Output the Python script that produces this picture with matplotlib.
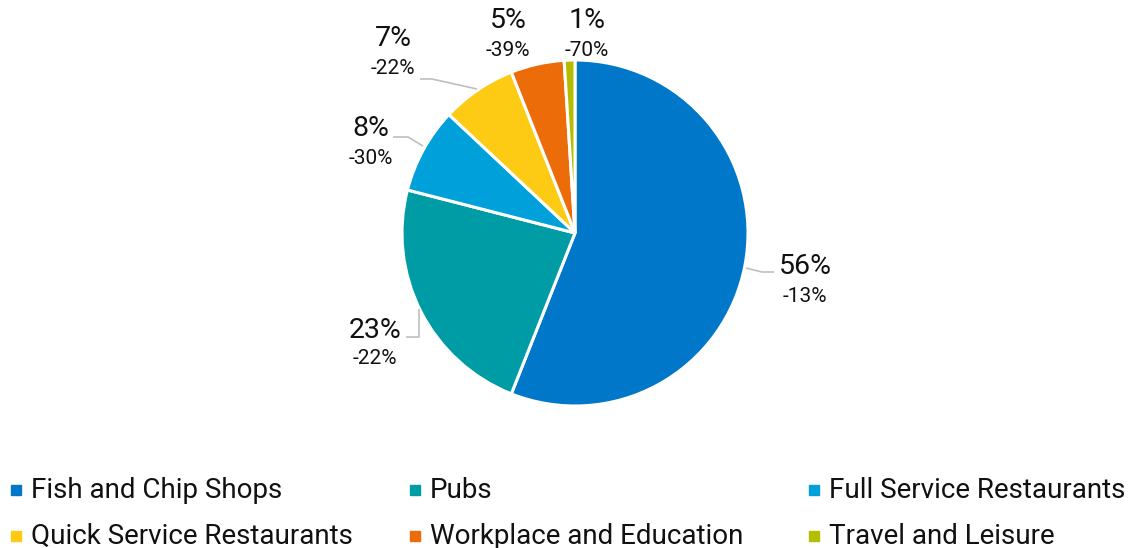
import matplotlib.pyplot as plt

plt.rcParams['font.family'] = ['Roboto', 'DejaVu Sans']

categories = ["Fish and Chip Shops", "Pubs", "Full Service Restaurants",
              "Quick Service Restaurants", "Workplace and Education", "Travel and Leisure"]
shares = [56, 23, 8, 7, 5, 1]
changes = ["-13%", "-22%", "-30%", "-22%", "-39%", "-70%"]
colors = ["#0077C8", "#009CA6", "#00A1DA", "#FDCB14", "#EC6C0A", "#B5BD00"]

W, H = 1131, 548


def P(px, py):
    # pixel coords (y down) -> axes coords (y up)
    return px, H - py


fig = plt.figure(figsize=(W / 100, H / 100), dpi=100)
ax = fig.add_axes([0, 0, 1, 1])
ax.axis('off')

cx, cy = P(575, 233)
wedges, _ = ax.pie(shares, colors=colors, startangle=90, counterclock=False,
                   center=(cx, cy), radius=173,
                   wedgeprops=dict(edgecolor='white', linewidth=2.2))
ax.set_xlim(0, W)
ax.set_ylim(0, H)
ax.set_aspect('equal')

# label layout: (pct center x, pct center y, change center y) in pixels
label_pos = [(805, 266, 297), (375, 331, 359), (371, 129, 158),
             (393, 38, 69), (508, 20, 51), (587, 20, 51)]
# leader lines in pixels (None = no leader)
leaders = [
    [(746, 268), (762, 272), (774, 272)],
    [(419, 309), (419, 337), (406, 337)],
    [(423, 146), (408, 137), (393, 137)],
    [(477, 89), (432, 79), (420, 79)],
    None,
    None,
]

for share, chg, (lx, ly1, ly2), lead in zip(shares, changes, label_pos, leaders):
    ax.text(*P(lx, ly1), f"{share}%", ha='center', va='center', fontsize=20.5, color='#111111')
    ax.text(*P(lx, ly2), chg, ha='center', va='center', fontsize=15, color='#111111')
    if lead:
        xs = [p[0] for p in lead]
        ys = [H - p[1] for p in lead]
        ax.plot(xs, ys, color='#BFBFBF', lw=1.2, solid_capstyle='butt')

# legend, laid out in three columns
leg_x = [16, 415, 814]
leg_y = [490, 536]
for i, (name, col) in enumerate(zip(categories, colors)):
    mx = leg_x[i % 3]
    my = leg_y[i // 3]
    ax.plot(*P(mx, my), marker='s', markersize=7.2, color=col, linestyle='none')
    ax.text(*P(mx + 15, my), name, ha='left', va='center', fontsize=20, color='#111111')

fig.savefig("out.png", dpi=100)
